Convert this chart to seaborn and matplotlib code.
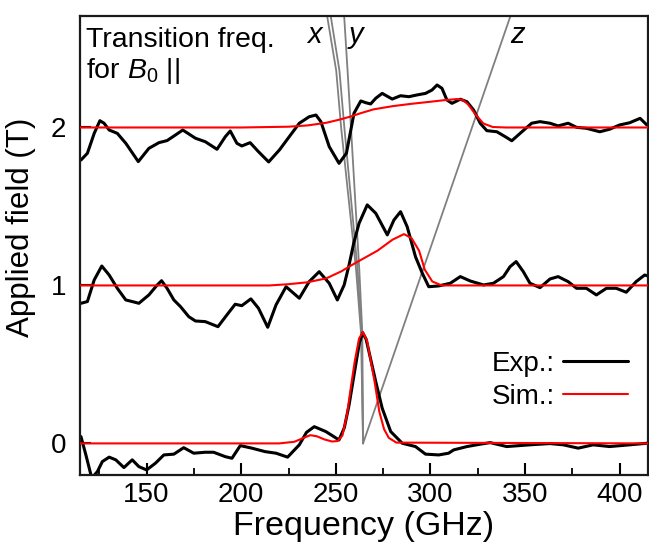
import matplotlib
matplotlib.use("Agg")
import matplotlib.pyplot as plt
import numpy as np
import pandas as pd
import seaborn as sns
from matplotlib.ticker import MultipleLocator, FixedLocator
from matplotlib.lines import Line2D

# ---------------- data (frequency GHz, applied field T) ----------------
exp_2T = [(115.3, 1.794), (118.7, 1.837), (122.3, 1.963), (125.3, 2.043), (127.5, 2.027),
          (130.2, 1.984), (134.5, 1.963), (139.0, 1.900), (145.6, 1.784), (151.2, 1.868),
          (156.5, 1.904), (160.8, 1.917), (165.3, 1.953), (169.1, 1.984), (175.8, 1.932),
          (181.0, 1.910), (187.2, 1.862), (191.6, 1.942), (194.2, 1.978), (197.7, 1.900),
          (200.3, 1.883), (204.7, 1.904), (209.1, 1.847), (214.5, 1.782), (220.2, 1.858),
          (225.4, 1.942), (230.7, 2.027), (235.9, 2.068), (239.5, 2.079), (242.1, 2.037),
          (246.5, 1.879), (251.7, 1.773), (255.6, 1.837), (259.6, 2.090), (263.2, 2.168),
          (265.8, 2.157), (268.4, 2.149), (271.1, 2.185), (274.5, 2.216), (279.8, 2.180),
          (284.2, 2.201), (288.6, 2.195), (292.9, 2.206), (297.4, 2.216), (300.8, 2.237),
          (303.5, 2.269), (306.1, 2.248), (308.7, 2.174), (311.4, 2.153), (315.8, 2.179),
          (319.3, 2.163), (322.8, 2.111), (326.3, 2.027), (329.8, 1.980), (335.1, 1.973),
          (339.5, 1.942), (343.0, 1.916), (347.4, 1.963), (353.5, 2.027), (357.9, 2.037),
          (363.2, 2.027), (367.5, 2.010), (372.8, 2.027), (377.2, 2.001), (382.4, 1.995),
          (389.5, 1.973), (394.7, 1.989), (400.0, 2.016), (405.3, 2.030), (410.8, 2.058),
          (414.4, 2.016)]

exp_1T = [(115.3, 0.887), (118.7, 0.898), (122.3, 1.035), (126.3, 1.123), (130.2, 1.066),
          (134.5, 0.982), (139.0, 0.908), (142.4, 0.898), (145.9, 0.887), (151.2, 0.940),
          (155.6, 1.003), (157.9, 1.030), (160.8, 0.982), (164.4, 0.908), (167.9, 0.866),
          (172.3, 0.802), (175.8, 0.775), (181.0, 0.771), (187.7, 0.739), (192.4, 0.813),
          (196.8, 0.881), (200.3, 0.872), (205.1, 0.915), (209.1, 0.856), (214.0, 0.735),
          (218.4, 0.877), (223.7, 0.992), (230.7, 0.919), (235.9, 1.024), (241.2, 1.087),
          (246.5, 1.014), (250.8, 0.908), (254.4, 1.003), (257.0, 1.130), (259.5, 1.270),
          (262.3, 1.394), (266.6, 1.510), (271.1, 1.457), (277.2, 1.320), (280.7, 1.414),
          (284.2, 1.467), (287.7, 1.372), (292.1, 1.182), (295.6, 1.080), (299.1, 0.992),
          (304.4, 0.997), (310.5, 1.014), (315.8, 1.056), (321.1, 1.028), (328.1, 1.003),
          (333.3, 1.014), (338.6, 1.056), (342.1, 1.119), (345.3, 1.151), (349.1, 1.087),
          (352.6, 1.014), (357.9, 0.986), (363.2, 1.041), (367.5, 1.056), (372.8, 1.024),
          (377.2, 0.982), (382.4, 0.982), (387.7, 0.940), (393.0, 0.982), (398.2, 0.982),
          (403.5, 0.957), (408.7, 1.024), (413.2, 1.066), (415.0, 1.060)]

exp_0T = [(115.3, 0.043), (117.9, -0.073), (121.0, -0.220), (124.0, -0.178), (126.6, -0.115),
          (130.2, -0.087), (133.7, -0.104), (138.0, -0.153), (142.4, -0.104), (145.9, -0.147),
          (150.0, -0.168), (154.7, -0.125), (159.1, -0.073), (164.4, -0.068), (169.6, -0.027),
          (174.9, -0.062), (181.0, -0.056), (185.4, -0.056), (191.6, -0.084), (195.1, -0.094),
          (199.5, -0.014), (205.6, -0.030), (212.6, -0.052), (218.4, -0.062), (224.5, -0.087),
          (230.7, -0.009), (234.5, 0.070), (238.6, 0.106), (244.7, 0.075), (251.7, 0.022),
          (254.5, 0.100), (257.0, 0.244), (260.5, 0.497), (262.5, 0.640), (264.2, 0.700),
          (266.0, 0.660), (267.5, 0.581), (271.1, 0.391), (274.5, 0.223), (279.0, 0.075),
          (285.1, 0.001), (292.1, -0.020), (297.4, -0.068), (304.4, -0.073), (309.6, -0.062),
          (312.3, -0.041), (319.3, -0.020), (326.3, -0.005), (331.6, 0.005), (340.3, -0.020),
          (352.6, -0.009), (363.2, -0.001), (370.2, -0.009), (378.1, -0.030), (386.0, -0.009),
          (394.7, -0.020), (405.3, -0.009), (414.4, 0.001)]

sim_2T = [(115, 2.0), (200, 2.0), (225, 2.005), (235, 2.013), (245, 2.03), (252, 2.05),
          (258, 2.07), (263, 2.09), (270, 2.115), (280, 2.135), (290, 2.15), (300, 2.163),
          (308, 2.174), (314, 2.18), (317, 2.175), (320, 2.145), (324, 2.08), (328, 2.025),
          (333, 2.003), (340, 2.0), (415, 2.0)]

sim_1T = [(115, 1.0), (215, 1.0), (225, 1.008), (235, 1.02), (245, 1.045), (253, 1.09),
          (260, 1.14), (266, 1.18), (272, 1.22), (280, 1.29), (286, 1.325), (290, 1.30),
          (294, 1.22), (297, 1.10), (301, 1.025), (306, 1.0), (415, 1.0)]

sim_0T = [(115, 0.0), (220, 0.0), (228, 0.01), (233, 0.035), (236.5, 0.052), (240, 0.045),
          (244, 0.025), (248, 0.012), (251, 0.015), (253.5, 0.05), (256, 0.19), (258, 0.36),
          (260, 0.52), (262.3, 0.665), (264.3, 0.705), (266.5, 0.65), (268.5, 0.52),
          (270.5, 0.39), (273, 0.2), (275.5, 0.09), (278, 0.035), (282, 0.005), (415, 0.0)]

# transition-frequency curves for B0 || x, y, z: (applied field T, frequency GHz)
trans_x1 = [(0.0, 264.4), (0.70, 263.3), (1.10, 260.7), (2.00, 252.8), (2.36, 250.2), (2.706, 245.4)]
trans_x2 = [(0.0, 264.4), (0.70, 263.6), (1.10, 261.5), (2.00, 254.5), (2.36, 251.9), (2.706, 247.3)]
trans_y = [(0.0, 264.4), (0.70, 264.0), (1.10, 262.4), (2.00, 258.0), (2.36, 256.2), (2.706, 254.4)]
trans_z = [(0.0, 264.4), (2.706, 342.3)]

x_ticks = [150, 200, 250, 300, 350, 400]
y_ticks = [0, 1, 2]

# ---------------- style ----------------
sns.set_theme(style="ticks")
plt.rcParams["font.family"] = ["Liberation Sans", "DejaVu Sans"]
plt.rcParams["mathtext.fontset"] = "custom"
plt.rcParams["mathtext.rm"] = "Liberation Sans"
plt.rcParams["mathtext.it"] = "Liberation Sans:italic"
for k in ("text.color", "axes.labelcolor", "xtick.color", "ytick.color"):
    plt.rcParams[k] = "black"

fig = plt.figure(figsize=(6.49, 5.49), dpi=100)
ax = fig.add_axes([0.1233, 0.1348, 0.8752, 0.8361])

def to_df(pairs):
    return pd.DataFrame(pairs, columns=["freq", "field"])

def trans_df(pairs):
    return pd.DataFrame(pairs, columns=["field", "freq"])

for t in (trans_x1, trans_x2, trans_y, trans_z):
    sns.lineplot(data=trans_df(t), x="freq", y="field", ax=ax, color="#808080", lw=1.3,
                 estimator=None, sort=False, zorder=1)

for s in (exp_2T, exp_1T, exp_0T):
    sns.lineplot(data=to_df(s), x="freq", y="field", ax=ax, color="black", lw=2.2,
                 estimator=None, sort=False, zorder=2, solid_joinstyle="round",
                 solid_capstyle="round")
for s in (sim_2T, sim_1T, sim_0T):
    sns.lineplot(data=to_df(s), x="freq", y="field", ax=ax, color="#ff0000", lw=1.5,
                 estimator=None, sort=False, zorder=3, solid_joinstyle="round")

ax.set_xlim(114.8, 415)
ax.set_ylim(-0.2, 2.706)
ax.xaxis.set_major_locator(FixedLocator(x_ticks))
ax.xaxis.set_minor_locator(MultipleLocator(25))
ax.yaxis.set_major_locator(FixedLocator(y_ticks))

ax.tick_params(axis="x", which="major", direction="in", length=9, width=1.5,
               labelsize=20, pad=5)
ax.tick_params(axis="x", which="minor", direction="in", length=5, width=1.3)
ax.tick_params(axis="y", which="major", direction="in", length=8, width=1.5,
               labelsize=20, pad=10)
for sp in ax.spines.values():
    sp.set_linewidth(1.6)
    sp.set_color("#1a1a1a")

ax.set_xlabel("Frequency (GHz)", fontsize=24.5, labelpad=2)
ax.set_ylabel("Applied field (T)", fontsize=22.5)
ax.yaxis.set_label_coords(-0.078, 0.539)

ax.text(118.0, 2.51, "Transition freq.", fontsize=20.5, va="baseline")
ax.text(118.0, 2.313, r"for $B_0$ ||", fontsize=20.5, va="baseline")
for lab, fx in (("x", 234.9), ("y", 257.0), ("z", 342.3)):
    ax.text(fx, 2.535, lab, fontsize=21, style="italic", va="baseline")

handles = [Line2D([], [], color="black", lw=2.2), Line2D([], [], color="#ff0000", lw=1.5)]
ax.legend(handles, ["Exp.:", "Sim.:"], loc="center right", bbox_to_anchor=(0.965, 0.206),
          frameon=False, markerfirst=False, handlelength=2.34, handletextpad=0.3,
          labelspacing=0.25, borderpad=0, borderaxespad=0, fontsize=20)

fig.savefig("out.png", dpi=100)
